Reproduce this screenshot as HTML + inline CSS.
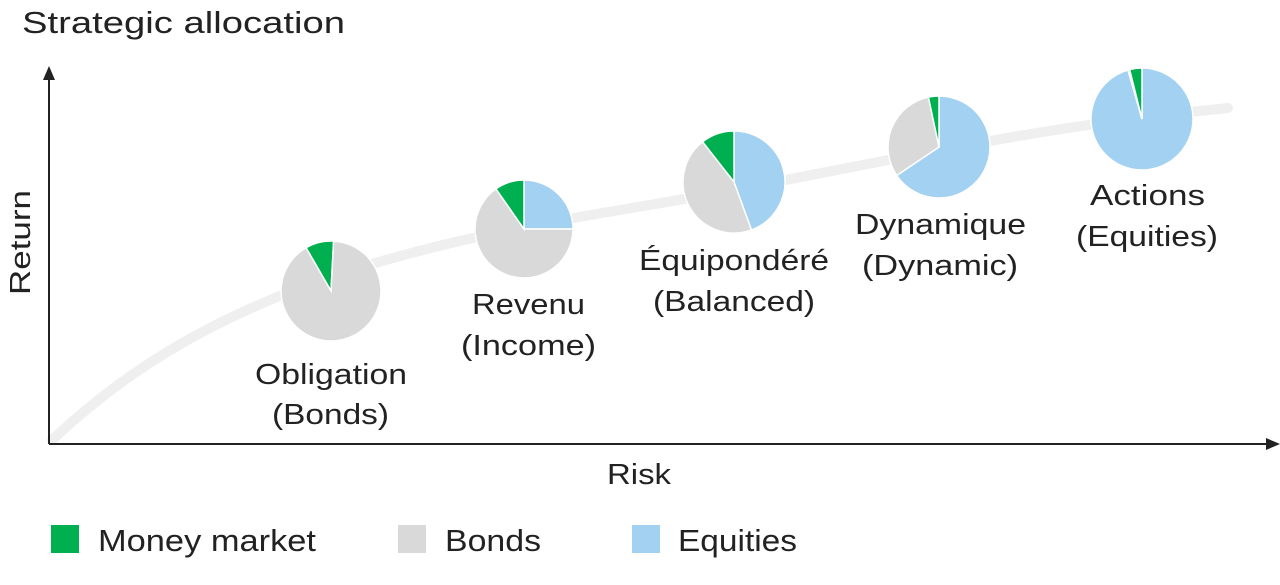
<!DOCTYPE html>
<html><head><meta charset="utf-8"><style>
body{margin:0;background:#fff;}
svg{display:block;font-family:"Liberation Sans",sans-serif;}
text{fill:#222;}
</style></head><body>
<svg width="1280" height="585" viewBox="0 0 1280 585">
<text x="22" y="33" font-size="31" textLength="323" lengthAdjust="spacingAndGlyphs">Strategic allocation</text>
<path d="M52,440 C200,300 380,250 620,210 S1000,130 1228,108" fill="none" stroke="#efefef" stroke-width="10" stroke-linecap="round"/>
<line x1="49" y1="78" x2="49" y2="444" stroke="#222" stroke-width="2"/>
<polygon points="49,66 43,80 55,80" fill="#222"/>
<line x1="49" y1="444" x2="1268" y2="444" stroke="#222" stroke-width="2"/>
<polygon points="1280,444 1266,438 1266,450" fill="#222"/>
<text x="607" y="484" font-size="29" textLength="64" lengthAdjust="spacingAndGlyphs">Risk</text>
<text transform="translate(30,295) rotate(-90)" font-size="29" textLength="105" lengthAdjust="spacingAndGlyphs">Return</text>
<g id="pies" stroke="#fff" stroke-width="1.5"></g>
<g font-size="29" lengthAdjust="spacingAndGlyphs">
<text x="255" y="384" textLength="152" lengthAdjust="spacingAndGlyphs">Obligation</text><text x="272" y="424" textLength="117" lengthAdjust="spacingAndGlyphs">(Bonds)</text>
<text x="472" y="314" textLength="113" lengthAdjust="spacingAndGlyphs">Revenu</text><text x="461" y="355" textLength="135" lengthAdjust="spacingAndGlyphs">(Income)</text>
<text x="639" y="270" textLength="190" lengthAdjust="spacingAndGlyphs">Équipondéré</text><text x="653" y="311" textLength="162" lengthAdjust="spacingAndGlyphs">(Balanced)</text>
<text x="855" y="234" textLength="171" lengthAdjust="spacingAndGlyphs">Dynamique</text><text x="862" y="275" textLength="156" lengthAdjust="spacingAndGlyphs">(Dynamic)</text>
<text x="1090" y="205" textLength="115" lengthAdjust="spacingAndGlyphs">Actions</text><text x="1076" y="246" textLength="142" lengthAdjust="spacingAndGlyphs">(Equities)</text>
</g>
<rect x="51" y="525" width="28" height="28" fill="#00b050"/>
<text x="98" y="551" font-size="31" textLength="218" lengthAdjust="spacingAndGlyphs">Money market</text>
<rect x="398" y="525" width="28" height="28" fill="#d9d9d9"/>
<text x="445" y="551" font-size="31" textLength="96" lengthAdjust="spacingAndGlyphs">Bonds</text>
<rect x="632" y="525" width="28" height="28" fill="#a3d1f2"/>
<text x="678" y="551" font-size="31" textLength="119" lengthAdjust="spacingAndGlyphs">Equities</text>
</svg>
<script>
var G="#00b050",B="#d9d9d9",E="#a3d1f2";
var pies=[
 [331,291,50,[[-30,3,G],[3,330,B]]],
 [524,229,49,[[0,90,E],[90,325,B],[325,360,G]]],
 [734,182,51,[[0,160,E],[160,322,B],[322,360,G]]],
 [939,147,51,[[0,236,E],[236,348,B],[348,360,G]]],
 [1142,119,51,[[0,344,E],[344,346,B],[346,360,G]]]
];
var g=document.getElementById('pies'),ns="http://www.w3.org/2000/svg";
function pt(cx,cy,r,a){a=a*Math.PI/180;return [cx+r*Math.sin(a),cy-r*Math.cos(a)];}
pies.forEach(function(p){p[3].forEach(function(s){
 var a=pt(p[0],p[1],p[2],s[0]),b=pt(p[0],p[1],p[2],s[1]);
 var d="M"+p[0]+","+p[1]+"L"+a[0]+","+a[1]+"A"+p[2]+","+p[2]+" 0 "+((s[1]-s[0])>180?1:0)+" 1 "+b[0]+","+b[1]+"Z";
 var e=document.createElementNS(ns,"path");e.setAttribute("d",d);e.setAttribute("fill",s[2]);g.appendChild(e);});});
</script>
</body></html>
